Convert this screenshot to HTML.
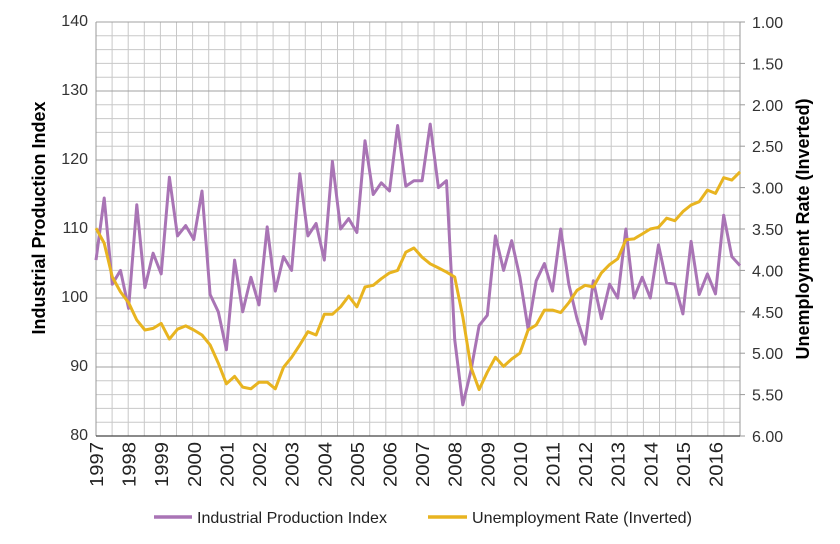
<!DOCTYPE html>
<html><head><meta charset="utf-8"><style>
body{margin:0;background:#fff;}
svg{display:block;font-family:"Liberation Sans",Arial,sans-serif;}
</style></head><body>
<svg id="chart" width="840" height="544" viewBox="0 0 840 544" xmlns="http://www.w3.org/2000/svg">
<g id="grid"></g>
<g id="axes"></g>
<g id="series"></g>
<text transform="translate(45,218) rotate(-90)" text-anchor="middle" font-size="18" font-weight="bold" fill="#000">Industrial Production Index</text>
<text transform="translate(809,229) rotate(-90)" text-anchor="middle" font-size="18" font-weight="bold" fill="#000">Unemployment Rate (Inverted)</text>
<g>
<line x1="154" y1="517" x2="192" y2="517" stroke="#a974b5" stroke-width="3.5"/>
<text x="197" y="523" font-size="16" textLength="190" lengthAdjust="spacingAndGlyphs" fill="#222">Industrial Production Index</text>
<line x1="428" y1="517" x2="467" y2="517" stroke="#e8b420" stroke-width="3.5"/>
<text x="472" y="523" font-size="16" textLength="220" lengthAdjust="spacingAndGlyphs" fill="#222">Unemployment Rate (Inverted)</text>
</g>
</svg>
<script>
const years = ["1997","1998","1999","2000","2001","2002","2003","2004","2005","2006","2007","2008","2009","2010","2011","2012","2013","2014","2015","2016"];
const leftTicks = [80,90,100,110,120,130,140];
const rightTicks = ["1.00","1.50","2.00","2.50","3.00","3.50","4.00","4.50","5.00","5.50","6.00"];
const ipi = [105.5,114.5,102,104, 98.5,113.5,101.5,106.5, 103.5,117.5,109,110.5, 108.5,115.5,100.5,98,
 92.5,105.5,98,103, 99,110.3,101,106, 104,118,109,110.8, 105.5,119.8,110,111.5,
 109.5,122.8,115,116.7, 115.5,125,116.2,117, 117,125.2,116,117, 94,84.5,89.5,96,
 97.5,109,104,108.3, 103,95.5,102.5,105, 101,110,102,97, 93.3,102.5,97,102,
 100,110,100,103, 100,107.7,102.2,102, 97.7,108.2,100.5,103.5, 100.6,112,106,104.7];
const unemp = [3.49,3.67,4.08,4.26, 4.39,4.60,4.72,4.70, 4.64,4.83,4.71,4.67, 4.72,4.78,4.90,5.12,
 5.37,5.28,5.41,5.43, 5.35,5.35,5.43,5.17, 5.05,4.90,4.74,4.78, 4.53,4.53,4.44,4.31,
 4.44,4.20,4.18,4.10, 4.03,4.00,3.78,3.73, 3.84,3.92,3.97,4.02, 4.08,4.56,5.17,5.44,
 5.23,5.05,5.16,5.07, 5.00,4.72,4.66,4.48, 4.48,4.51,4.39,4.24, 4.18,4.20,4.03,3.93,
 3.86,3.63,3.62,3.56, 3.50,3.48,3.37,3.40, 3.29,3.21,3.17,3.03, 3.07,2.88,2.91,2.81];

const L=96,R=740,T=22,B=436;
const NS="http://www.w3.org/2000/svg";
const n=ipi.length;
const xq=i=>L+i*(R-L)/(n-1);
const xYear=k=>L+k*4*(R-L)/(n-1);
const yL=v=>B-(v-80)/60*(B-T);
const yR=v=>T+(v-1)/5*(B-T);
function mk(tag,attrs,parent){const e=document.createElementNS(NS,tag);for(const k in attrs)e.setAttribute(k,attrs[k]);parent.appendChild(e);return e;}
const grid=document.getElementById('grid'),axes=document.getElementById('axes'),series=document.getElementById('series');

for(let j=1;j<40;j++){const x=L+j*(R-L)/40;
 const g=mk('line',{x1:x,y1:T,x2:x,y2:B,stroke:'#c8c8c8','stroke-width':1},grid);
 
 }
for(let v=82;v<=140;v+=2){const y=yL(v);
 const g=mk('line',{x1:L,y1:y,x2:R,y2:y,stroke:(v%10===0)?'#a0a0a0':'#c8c8c8','stroke-width':1},grid);
 
 }
let a=mk('line',{x1:L,y1:T,x2:L,y2:B,stroke:'#999','stroke-width':1},axes);

a=mk('line',{x1:R,y1:T,x2:R,y2:B,stroke:'#999','stroke-width':1},axes);

a=mk('line',{x1:L,y1:B,x2:R,y2:B,stroke:'#444','stroke-width':1.3},axes);


leftTicks.forEach(v=>{const t=mk('text',{x:88,y:yL(v)+4,'text-anchor':'end','font-size':16,fill:'#333'},axes);
 t.textContent=v;
 
 });
rightTicks.forEach(s=>{const v=parseFloat(s),y=yR(v);
 const tk=mk('line',{x1:R,y1:y,x2:R+5,y2:y,stroke:'#999'},axes);
 
 
 const t=mk('text',{x:752,y:y+6,'font-size':16,fill:'#333'},axes);
 t.textContent=s;
 
 });
years.forEach((s,k)=>{const x=xYear(k);
 const t=mk('text',{transform:`translate(${x+7},442) rotate(-90)`,'text-anchor':'end','font-size':18,textLength:45,lengthAdjust:'spacingAndGlyphs',fill:'#222'},axes);
 t.textContent=s;
 
 });

function line(vals,yf,color,name){const p=vals.map((v,i)=>(i?'L':'M')+xq(i).toFixed(1)+','+yf(v).toFixed(1)).join('');
 const e=mk('path',{d:p,fill:'none',stroke:color,'stroke-width':3,'stroke-linejoin':'round'},series);
 
 }
line(ipi,yL,'#a974b5','ipi-line');
line(unemp,yR,'#e8b420','unemployment-line');
</script>
</body></html>
